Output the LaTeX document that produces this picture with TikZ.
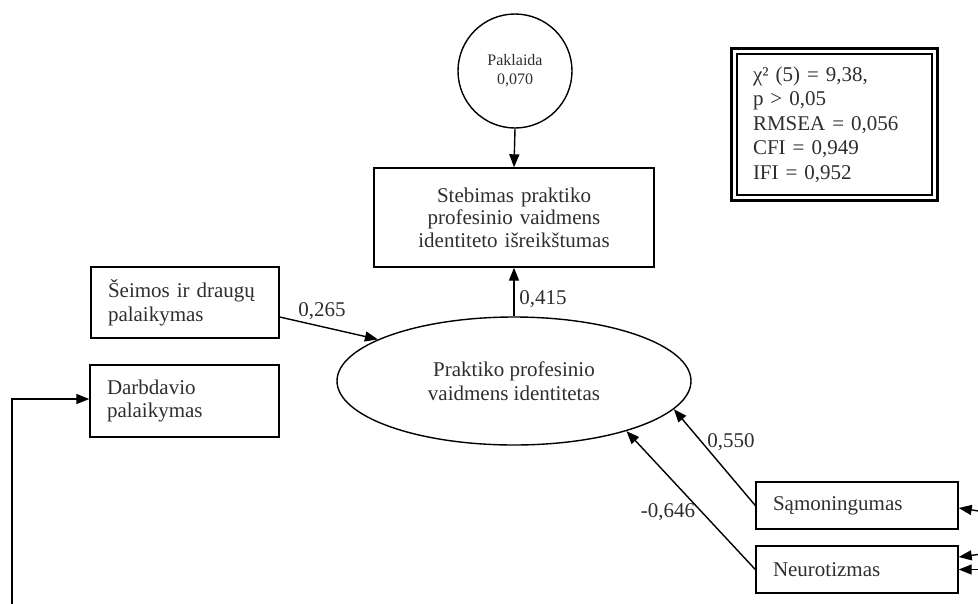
\documentclass[tikz,border=0pt]{standalone}
\usepackage{fontspec}
\setmainfont{Liberation Serif}
\usetikzlibrary{arrows.meta,shapes.geometric,calc}
\begin{document}
\begin{tikzpicture}[x=1pt,y=-1pt,
  ink/.style={text=black!82},
  frame/.style={draw=black,line width=1.4pt},
  boxnode/.style={frame,ink,rectangle,inner xsep=17pt,inner ysep=0pt,align=left,
    font=\fontsize{21}{23.5}\selectfont},
  lbl/.style={ink,inner sep=0pt,font=\fontsize{21}{23}\selectfont},
  arr/.style={draw=black,line width=1.4pt,-{Triangle[length=13pt,width=10pt]}}]
\useasboundingbox (0,0) rectangle (978,603);

% error term and observed indicator
\node[frame,ink,circle,minimum size=114pt,inner sep=0pt,align=center,
      font=\fontsize{16}{19}\selectfont] (err) at (515,71) {Paklaida\\0,070};
\node[frame,ink,rectangle,text width=280pt,minimum height=99pt,inner sep=0pt,align=center,
      font=\fontsize{21}{22.5}\selectfont] (obs) at (514,217.5)
  {Stebimas praktiko\\profesinio vaidmens\\identiteto išreikštumas};

% latent construct
\node[frame,ink,ellipse,minimum width=354pt,minimum height=128pt,inner sep=0pt,align=center,
      font=\fontsize{21}{24.5}\selectfont] (lat) at (514,381)
  {Praktiko profesinio\\vaidmens identitetas};

% predictors
\node[boxnode,text width=154pt,minimum height=71pt] (fam) at (185,302.5) {Šeimos ir draugų\\palaikymas};
\node[boxnode,text width=155pt,minimum height=72pt] (darb) at (184.5,401) {Darbdavio\\palaikymas};
\node[boxnode,text width=168pt,minimum height=47pt] (sam) at (857,505.5) {Sąmoningumas};
\node[boxnode,text width=168pt,minimum height=47pt] (neu) at (857,569.5) {Neurotizmas};

% fit indices
\node[draw=black,line width=1.3pt,ink,rectangle,text width=163pt,minimum height=141pt,
      inner xsep=16pt,inner ysep=0pt,align=left,
      font=\fontsize{21}{24.5}\selectfont] (fit) at (834.5,124.5)
  {χ² (5) = 9,38,\\p > 0,05\\RMSEA = 0,056\\CFI = 0,949\\IFI = 0,952};
\draw[line width=3pt] ($(fit.north west)+(-5,-5)$) rectangle ($(fit.south east)+(5,5)$);

% free ends of connectors
\coordinate (d0) at (12,610);
\coordinate (r1) at (982,511.5);
\coordinate (r2) at (982,554);
\coordinate (r3) at (982,569.5);

% paths
\draw[arr] (err.south) -- (obs.north);
\draw[arr] (lat.north) -- (obs.south);
\draw[arr] ($(fam.east)+(0,14.5)$) -- (lat.163);
\draw[arr] (sam.west) -- (lat.-10);
\draw[arr] (neu.west) -- (lat.-24);
\draw[arr] (d0) |- ($(darb.west)+(0,-2)$);
\draw[arr] (r1) -- ($(sam.east)+(0,2.5)$);
\draw[arr] (r2) -- ($(neu.east)+(0,-12.5)$);
\draw[arr] (r3) -- (neu.east);

% path coefficients
\node[lbl] (c1) at (543,299) {0,415};
\node[lbl] (c2) at (322,311) {0,265};
\node[lbl] (c3) at (731,442) {0,550};
\node[lbl] (c4) at (668,512) {-0,646};
\end{tikzpicture}
\end{document}
